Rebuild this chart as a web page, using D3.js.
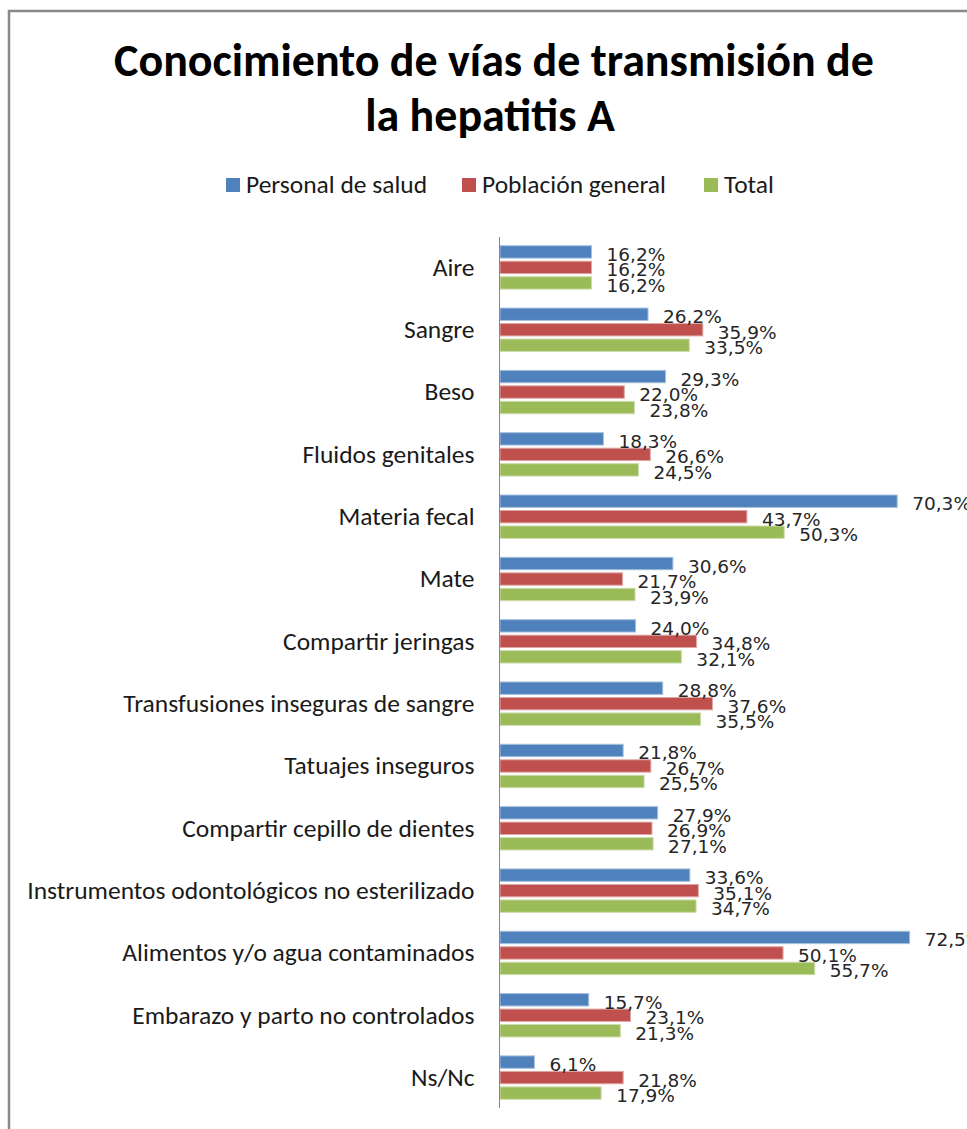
<!DOCTYPE html>
<html>
<head>
  <meta charset="utf-8">
  <title>Conocimiento de vías de transmisión de la hepatitis A</title>
  <script src="https://cdn.jsdelivr.net/npm/d3@7"></script>
  <style>
    body { margin: 0; background: #fff; }
    svg { display: block; }
  </style>
</head>
<body>
<script>
// categories (top to bottom) and series values, in percent
var categories = [
  "Aire", "Sangre", "Beso", "Fluidos genitales", "Materia fecal", "Mate",
  "Compartir jeringas", "Transfusiones inseguras de sangre", "Tatuajes inseguros",
  "Compartir cepillo de dientes", "Instrumentos odontológicos no esterilizado",
  "Alimentos y/o agua contaminados", "Embarazo y parto no controlados", "Ns/Nc"
];
var seriesNames = ["Personal de salud", "Población general", "Total"];
var personalSalud    = [16.2, 26.2, 29.3, 18.3, 70.3, 30.6, 24.0, 28.8, 21.8, 27.9, 33.6, 72.5, 15.7, 6.1];
var poblacionGeneral = [16.2, 35.9, 22.0, 26.6, 43.7, 21.7, 34.8, 37.6, 26.7, 26.9, 35.1, 50.1, 23.1, 21.8];
var total            = [16.2, 33.5, 23.8, 24.5, 50.3, 23.9, 32.1, 35.5, 25.5, 27.1, 34.7, 55.7, 21.3, 17.9];

var colors  = ["#4f81bd", "#c0504d", "#9bbb59"];
var borders = ["#a7c0de", "#dfa8a6", "#cddcac"];

var width = 967, height = 1129;
var catFont = "Carlito, Lato, sans-serif";

var svg = d3.select("body").append("svg")
    .attr("width", width)
    .attr("height", height);

// chart frame (left and top edges only are visible)
svg.append("path")
    .attr("d", "M9,1129 V11 H967")
    .attr("fill", "none")
    .attr("stroke", "#898989")
    .attr("stroke-width", 2.5);

// title
var title = svg.append("text")
    .attr("text-anchor", "middle")
    .style("font-family", catFont)
    .style("font-weight", "bold")
    .style("font-size", "46px")
    .attr("fill", "#000");
title.append("tspan").attr("x", 494).attr("y", 76).text("Conocimiento de vías de transmisión de");
title.append("tspan").attr("x", 490).attr("y", 131).text("la hepatitis A");

// scales
var xScale = d3.scaleLinear().domain([0, 80]).range([500, 952]);
var yScale = d3.scaleBand().domain(categories).range([237, 1108])
    .paddingInner(0.304).paddingOuter(0.14);
var ySub = d3.scaleBand().domain(seriesNames).range([0, yScale.bandwidth()])
    .paddingInner(0.2);

var series = [personalSalud, poblacionGeneral, total];

// bars
series.forEach(function (vals, s) {
  svg.append("g").selectAll("rect")
    .data(vals)
    .enter()
    .append("rect")
      .attr("x", xScale(0))
      .attr("y", function (d, i) { return yScale(categories[i]) + ySub(seriesNames[s]); })
      .attr("width", function (d) { return xScale(d) - xScale(0); })
      .attr("height", ySub.bandwidth())
      .attr("fill", colors[s])
      .attr("stroke", borders[s])
      .attr("stroke-width", 1);
});

// value labels
series.forEach(function (vals, s) {
  svg.append("g").selectAll("text")
    .data(vals)
    .enter()
    .append("text")
      .attr("x", function (d) { return xScale(d) + 15; })
      .attr("y", function (d, i) {
        return yScale(categories[i]) + ySub(seriesNames[s]) + ySub.bandwidth() / 2 + 9;
      })
      .style("font-family", "'DejaVu Sans', Verdana, sans-serif")
      .style("font-size", "18.5px")
      .attr("fill", "#262626")
      .text(function (d) { return d.toFixed(1).replace(".", ",") + "%"; });
});

// category axis
var yAxis = d3.axisLeft(yScale).tickSize(0).tickPadding(25);
var axisG = svg.append("g")
    .attr("transform", "translate(499.5,0)")
    .call(yAxis);
axisG.select(".domain").attr("stroke", "#868686").attr("d", "M0,237V1108");
axisG.selectAll("text")
    .style("font-family", catFont)
    .style("font-size", "25.5px")
    .attr("fill", "#1a1a1a")
    .attr("dy", "0.33em");

// legend
var legendX = [226, 462, 704];
var legend = svg.append("g");
seriesNames.forEach(function (name, s) {
  legend.append("rect")
    .attr("x", legendX[s]).attr("y", 178)
    .attr("width", 14).attr("height", 14)
    .attr("fill", colors[s]);
  legend.append("text")
    .attr("x", legendX[s] + 20).attr("y", 193)
    .style("font-family", catFont)
    .style("font-size", "25.5px")
    .attr("fill", "#1a1a1a")
    .text(name);
});
</script>
</body>
</html>
